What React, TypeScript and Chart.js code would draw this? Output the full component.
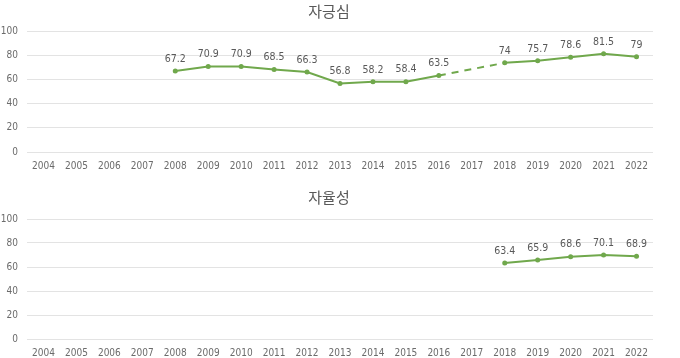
import React, { useEffect, useRef } from "react";
import { Chart, registerables } from "chart.js";

Chart.register(...registerables);

const years = ["2004","2005","2006","2007","2008","2009","2010","2011","2012","2013","2014","2015","2016","2017","2018","2019","2020","2021","2022"];
const prideValues: (number | null)[] = [null,null,null,null,67.2,70.9,70.9,68.5,66.3,56.8,58.2,58.4,63.5,null,74,75.7,78.6,81.5,79];
const autonomyValues: (number | null)[] = [null,null,null,null,null,null,null,null,null,null,null,null,null,null,63.4,65.9,68.6,70.1,68.9];
const yTicks = [0, 20, 40, 60, 80, 100];
const titles = ["자긍심", "자율성"];

const GREEN = "#70a84c";
const TEXT = "#595959";
const TICK = "#6b6b6b";
const FONT = "'DejaVu Sans Condensed', 'Noto Sans', sans-serif";

function makeChart(canvas: HTMLCanvasElement, title: string, values: (number | null)[], topPad: number, xHeight: number, titleY: number) {
  const labelPlugin = {
    id: "labelsAndTitle",
    afterDatasetsDraw(chart: any) {
      const ctx = chart.ctx;
      const meta = chart.getDatasetMeta(0);
      ctx.save();
      ctx.fillStyle = TEXT;
      ctx.font = `10.5px ${FONT}`;
      ctx.textAlign = "center";
      ctx.textBaseline = "middle";
      meta.data.forEach((pt: any, i: number) => {
        const v = values[i];
        if (v === null || v === undefined) return;
        ctx.fillText(String(v), pt.x, pt.y - 12);
      });
      ctx.font = `15px 'Noto Sans CJK KR', sans-serif`;
      ctx.fillText(title, 329, titleY);
      ctx.restore();
    },
  };
  return new Chart(canvas, {
    type: "line",
    data: {
      labels: years,
      datasets: [
        {
          data: values,
          borderColor: GREEN,
          backgroundColor: GREEN,
          borderWidth: 2,
          pointRadius: 2.5,
          pointBorderWidth: 0,
          pointBackgroundColor: GREEN,
          spanGaps: true,
          tension: 0,
          segment: {
            borderDash: (c: any) => (c.p0.skip || c.p1.skip ? [7, 6] : undefined),
          },
        },
      ],
    },
    options: {
      animation: false,
      responsive: false,
      maintainAspectRatio: false,
      layout: { padding: { top: topPad, right: 27, left: 0, bottom: 0 } },
      plugins: { legend: { display: false }, tooltip: { enabled: false }, title: { display: false } },
      scales: {
        x: {
          offset: true,
          grid: { display: false, drawTicks: false },
          border: { display: false },
          ticks: { color: TICK, font: { size: 10, family: FONT }, padding: 8, maxRotation: 0, autoSkip: false },
          afterFit: (s: any) => { s.height = xHeight; },
        },
        y: {
          min: 0,
          max: 100,
          afterBuildTicks: (s: any) => { s.ticks = yTicks.map((v) => ({ value: v })); },
          grid: { color: "#e3e3e3", drawTicks: false, lineWidth: 1 },
          border: { display: false },
          ticks: { color: TICK, font: { size: 10, family: FONT }, padding: 9 },
          afterFit: (s: any) => { s.width = 27; },
        },
      },
    },
    plugins: [labelPlugin],
  });
}

export default function App() {
  const ref1 = useRef<HTMLCanvasElement>(null);
  const ref2 = useRef<HTMLCanvasElement>(null);
  useEffect(() => {
    document.body.style.margin = "0";
    const c1 = makeChart(ref1.current!, titles[0], prideValues, 31.5, 28, 11);
    const c2 = makeChart(ref2.current!, titles[1], autonomyValues, 39, 19, 17);
    return () => { c1.destroy(); c2.destroy(); };
  }, []);
  return (
    <div style={{ position: "absolute", left: 0, top: 0, width: 680, height: 358, background: "#fff" }}>
      <canvas ref={ref1} width={680} height={180} style={{ position: "absolute", left: 0, top: 0 }} />
      <canvas ref={ref2} width={680} height={178} style={{ position: "absolute", left: 0, top: 180 }} />
    </div>
  );
}
